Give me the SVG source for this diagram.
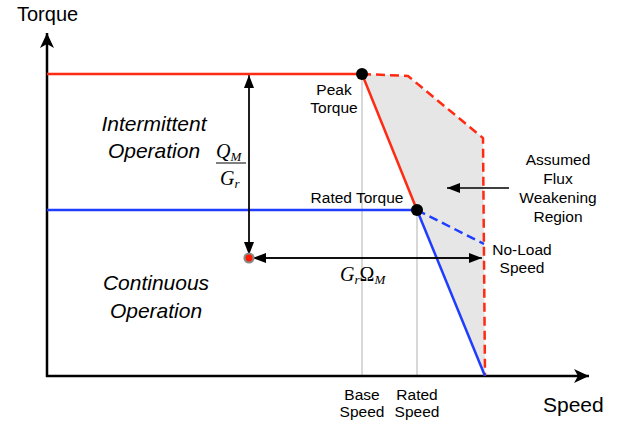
<svg xmlns="http://www.w3.org/2000/svg" width="621" height="426" viewBox="0 0 621 426">
<style>
.t{font-family:"Liberation Sans",Arial,sans-serif;fill:#000}
.s{font-size:15.5px;text-anchor:middle}
.op{font-size:21px;font-style:italic;text-anchor:middle}
.m{font-family:"Liberation Serif","Times New Roman",serif;font-style:italic;fill:#000}
.axis{stroke:#000;stroke-width:2.5;fill:none}
.dim{stroke:#000;stroke-width:1.3;fill:none}
.red{stroke:#ff2a12;stroke-width:2.5;fill:none}
.blue{stroke:#1f3dff;stroke-width:2.5;fill:none}
.dash{stroke-dasharray:9 5}
.guide{stroke:#c4c4c4;stroke-width:1.3}
</style>
<defs>
<marker id="ax" markerWidth="16" markerHeight="14" refX="15" refY="7" orient="auto" markerUnits="userSpaceOnUse">
<path d="M15,7 L0,0 L4,7 L0,14 Z" fill="#000"/>
</marker>
<marker id="ah" markerWidth="14" markerHeight="10" refX="13" refY="5" orient="auto" markerUnits="userSpaceOnUse">
<path d="M13,5 L0,0 L0,10 Z" fill="#000"/>
</marker>
</defs>
<g id="flux-region">
<polygon points="362,74 408,76 483,138 485,376 417,210" fill="#e6e6e6"/>
</g>
<g id="guides">
<line class="guide" x1="362" y1="74" x2="362" y2="376"/>
<line class="guide" x1="417" y1="210" x2="417" y2="376"/>
</g>
<g id="connectors">
<line class="axis" x1="47" y1="377" x2="47" y2="33" marker-end="url(#ax)"/>
<line class="axis" x1="46" y1="376" x2="589" y2="376" marker-end="url(#ax)"/>
<line class="red" x1="47" y1="74" x2="362" y2="74"/>
<polyline class="red dash" points="362,74 408,76 483,138 485,376"/>
<line class="red" x1="362" y1="74" x2="417" y2="210"/>
<line class="blue" x1="47" y1="210" x2="417" y2="210"/>
<line class="blue dash" x1="417" y1="210" x2="484" y2="244"/>
<line class="blue" x1="417" y1="210" x2="485" y2="376"/>
<line class="dim" x1="249" y1="256" x2="249" y2="75" marker-end="url(#ah)"/>
<line class="dim" x1="249" y1="80" x2="249" y2="255" marker-end="url(#ah)"/>
<line class="dim" x1="470" y1="258" x2="253" y2="258" marker-end="url(#ah)"/>
<line class="dim" x1="260" y1="258" x2="482" y2="258" marker-end="url(#ah)"/>
<line class="dim" x1="509" y1="188" x2="447" y2="188" marker-end="url(#ah)"/>
</g>
<g id="origin-point">
<circle cx="249" cy="258" r="4.5" fill="#ff1a00" stroke="#8a8a8a" stroke-width="2.2"/>
</g>
<g id="peak-torque">
<circle cx="362" cy="74" r="6" fill="#000"/>
<text class="t s" x="334" y="95">Peak</text>
<text class="t s" x="334" y="113">Torque</text>
</g>
<g id="rated-torque">
<circle cx="417" cy="210" r="6" fill="#000"/>
<text class="t s" x="357" y="203">Rated Torque</text>
</g>
<g id="axis-labels">
<text class="t" x="17" y="21" font-size="20">Torque</text>
<text class="t" x="543" y="412" font-size="21">Speed</text>
<text class="t s" x="362" y="400">Base</text>
<text class="t s" x="362" y="417">Speed</text>
<text class="t s" x="417" y="400">Rated</text>
<text class="t s" x="417" y="417">Speed</text>
</g>
<g id="intermittent">
<text class="t op" x="154" y="131">Intermittent</text>
<text class="t op" x="154" y="158">Operation</text>
</g>
<g id="continuous">
<text class="t op" x="156" y="290">Continuous</text>
<text class="t op" x="156" y="318">Operation</text>
</g>
<g id="flux-label">
<text class="t s" x="558" y="165">Assumed</text>
<text class="t s" x="558" y="184">Flux</text>
<text class="t s" x="558" y="203">Weakening</text>
<text class="t s" x="558" y="222">Region</text>
</g>
<g id="no-load">
<text class="t s" x="522" y="255">No-Load</text>
<text class="t s" x="522" y="273">Speed</text>
</g>
<g id="ratio-label">
<text class="m" x="216" y="158" font-size="20">Q<tspan font-size="13" dy="3">M</tspan></text>
<line x1="216" y1="163" x2="246" y2="163" stroke="#000" stroke-width="1"/>
<text class="m" x="220" y="185" font-size="20">G<tspan font-size="13" dy="3">r</tspan></text>
</g>
<g id="speed-label">
<text class="m" x="340" y="281" font-size="20">G<tspan font-size="13" dy="3">r</tspan><tspan dy="-3" font-style="normal">Ω</tspan><tspan font-size="13" dy="3">M</tspan></text>
</g>
</svg>
